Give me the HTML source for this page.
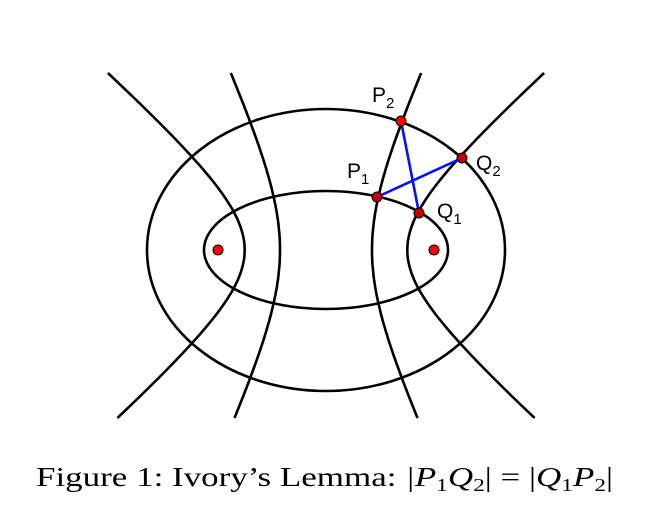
<!DOCTYPE html>
<html><head><meta charset="utf-8"><style>
html,body{margin:0;padding:0;background:#fff;width:650px;height:522px;overflow:hidden}
</style></head><body>
<svg id="s" width="650" height="522" xmlns="http://www.w3.org/2000/svg">
<g fill="none" stroke="#000" stroke-width="2.6">
<ellipse cx="326" cy="250" rx="179" ry="141"/>
<ellipse cx="326" cy="250" rx="122" ry="59"/>
<g id="hyp"></g>
</g>
<g stroke="#0010ff" stroke-width="2.6">
<line x1="401" y1="121" x2="419" y2="213"/>
<line x1="377" y1="197" x2="462" y2="158"/>
</g>
<g stroke="#000" stroke-width="1">
<circle cx="218" cy="250" r="5" fill="#ff0000"/>
<circle cx="434" cy="250" r="5" fill="#ff0000"/>
<circle cx="401" cy="121" r="5" fill="#ff0000"/>
<circle cx="462" cy="158" r="5" fill="#c00000"/>
<circle cx="377" cy="197" r="5" fill="#c00000"/>
<circle cx="419" cy="213" r="5" fill="#c00000"/>
</g>
<g font-family="Liberation Sans, sans-serif" font-size="21" fill="#000">
<text x="372" y="102">P<tspan font-size="15" dy="6">2</tspan></text>
<text x="347" y="178">P<tspan font-size="15" dy="6">1</tspan></text>
<text x="476" y="170">Q<tspan font-size="15" dy="6">2</tspan></text>
<text x="437" y="218">Q<tspan font-size="15" dy="6">1</tspan></text>
</g>
<text x="36" y="486" textLength="577" lengthAdjust="spacingAndGlyphs" font-family="Liberation Serif, serif" font-size="27" fill="#000">Figure 1: Ivory’s Lemma: <tspan font-style="italic">|P</tspan><tspan font-size="18" dy="5">1</tspan><tspan font-style="italic" dy="-5">Q</tspan><tspan font-size="18" dy="5">2</tspan><tspan dy="-5">| = |</tspan><tspan font-style="italic">Q</tspan><tspan font-size="18" dy="5">1</tspan><tspan font-style="italic" dy="-5">P</tspan><tspan font-size="18" dy="5">2</tspan><tspan dy="-5">|</tspan></text>
</svg>
<script>
var c=108,g=document.getElementById('hyp');
[81.3,46].forEach(function(a){
 var b2=c*c-a*a;
 [-1,1].forEach(function(sg){
  var p=[];
  for(var y=73;y<=418;y+=3){var dy=y-250;var x=a*Math.sqrt(1+dy*dy/b2);p.push((326+sg*x).toFixed(1)+','+y);}
  var e=document.createElementNS('http://www.w3.org/2000/svg','polyline');
  e.setAttribute('points',p.join(' '));g.appendChild(e);
 });
});
</script>
</body></html>
